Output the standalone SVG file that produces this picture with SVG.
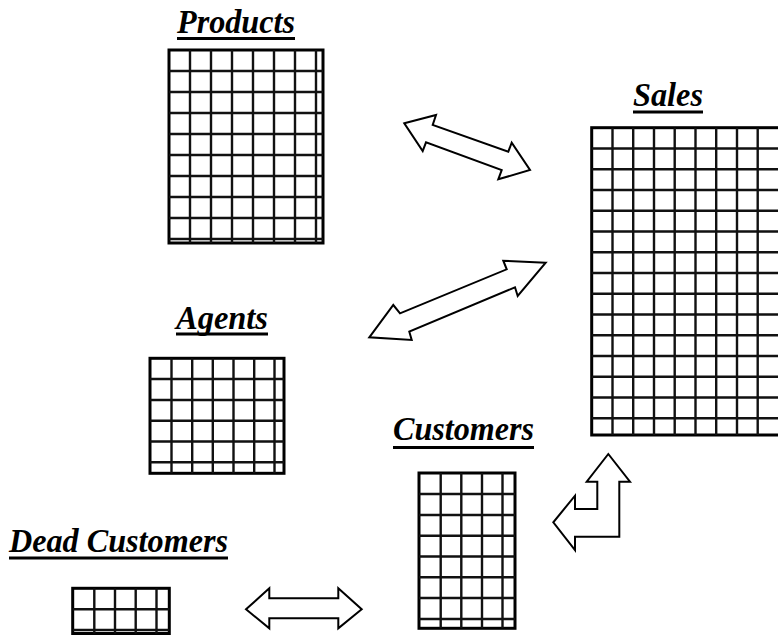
<svg xmlns="http://www.w3.org/2000/svg" width="778" height="635" viewBox="0 0 778 635">
  <style>
    .title { font-family: "Liberation Serif", "Times New Roman", serif; font-size: 34px; font-weight: bold; font-style: italic; fill: #000; }
    .uline { fill: #000; }
    .frame { fill: #fff; stroke: #000; stroke-width: 3; }
    .cells { fill: none; stroke: #111; stroke-width: 2.4; }
    .arrow { fill: #fff; stroke: #000; stroke-width: 2; stroke-linejoin: miter; }
  </style>
  <rect width="778" height="635" fill="#fff"/>

  <g id="products">
    <text class="title" x="177" y="33" textLength="118" lengthAdjust="spacingAndGlyphs">Products</text>
    <rect class="uline" x="177" y="37" width="118" height="3"/>
    <rect class="frame" x="169" y="50" width="154" height="193"/>
    <path class="cells" d="M190 50V243M211 50V243M232 50V243M253 50V243M274 50V243M295 50V243M316 50V243
      M169 71H323M169 92H323M169 113H323M169 134H323M169 155H323M169 176H323M169 197H323M169 218H323M169 239H323"/>
  </g>

  <g id="sales">
    <text class="title" x="633" y="106" textLength="70" lengthAdjust="spacingAndGlyphs">Sales</text>
    <rect class="uline" x="633" y="110.5" width="70" height="3"/>
    <rect class="frame" x="591.7" y="127.7" width="200" height="307.3"/>
    <path class="cells" d="M612.5 127.7V435M633.2 127.7V435M654 127.7V435M674.7 127.7V435M695.5 127.7V435M716.2 127.7V435M737 127.7V435M757.7 127.7V435
      M591.7 148.5H790M591.7 169.2H790M591.7 190H790M591.7 210.7H790M591.7 231.5H790M591.7 252.2H790M591.7 273H790M591.7 293.7H790M591.7 314.5H790M591.7 335.2H790M591.7 356H790M591.7 376.7H790M591.7 397.5H790M591.7 418.2H790"/>
  </g>

  <g id="agents">
    <text class="title" x="176" y="329" textLength="92" lengthAdjust="spacingAndGlyphs">Agents</text>
    <rect class="uline" x="176" y="332.5" width="92" height="3"/>
    <rect class="frame" x="150" y="358.3" width="134" height="115"/>
    <path class="cells" d="M171.5 358.3V473.3M192.2 358.3V473.3M212.8 358.3V473.3M233.5 358.3V473.3M254.2 358.3V473.3M274.5 358.3V473.3
      M150 379H284M150 400H284M150 420.7H284M150 441.5H284M150 462.3H284"/>
  </g>

  <g id="customers">
    <text class="title" x="393" y="440" textLength="141" lengthAdjust="spacingAndGlyphs">Customers</text>
    <rect class="uline" x="393" y="446" width="141" height="3"/>
    <rect class="frame" x="419" y="473" width="96" height="155.3"/>
    <path class="cells" d="M440.7 473V628.3M461.3 473V628.3M482 473V628.3M502.5 473V628.3
      M419 494H515M419 515H515M419 535.7H515M419 556.5H515M419 577.3H515M419 598H515M419 619H515"/>
  </g>

  <g id="dead-customers">
    <text class="title" x="9" y="552" textLength="219" lengthAdjust="spacingAndGlyphs">Dead Customers</text>
    <rect class="uline" x="9" y="556.5" width="219" height="3"/>
    <rect class="frame" x="72.7" y="588.3" width="96.6" height="45.2"/>
    <path class="cells" d="M94.3 588.3V633.5M115 588.3V633.5M135.7 588.3V633.5M156.5 588.3V633.5
      M72.7 609.3H169.3M72.7 630H169.3"/>
  </g>

  <g id="connectors">
    <!-- Products <-> Sales -->
    <polygon class="arrow" points="404.3,123.3 436,115 432.7,125 508.3,151.7 511.7,142.7 530,170 498.3,179.3 501.7,170 426,142.3 422.7,151"/>
    <!-- Agents <-> Sales -->
    <polygon class="arrow" points="545.7,262.7 503.3,260.7 506.7,269.3 400,313.3 393.3,305 369.3,337.3 411.7,340 409.3,331.7 515,287.3 517.7,296"/>
    <!-- Customers <-> Sales (bent) -->
    <polygon class="arrow" points="608.3,454 630,481.7 619.3,481.7 619.3,536.7 575,536.7 575,550 553.3,522.3 575,495.7 575,509 597.3,509 597.3,481.7 586.7,481.7"/>
    <!-- Dead Customers <-> Customers -->
    <polygon class="arrow" points="246,609.3 269.3,588.3 269.3,598.3 338.3,598.3 338.3,588.3 361.7,609.3 338.3,628.3 338.3,618.3 269.3,618.3 269.3,628.3"/>
  </g>
</svg>
